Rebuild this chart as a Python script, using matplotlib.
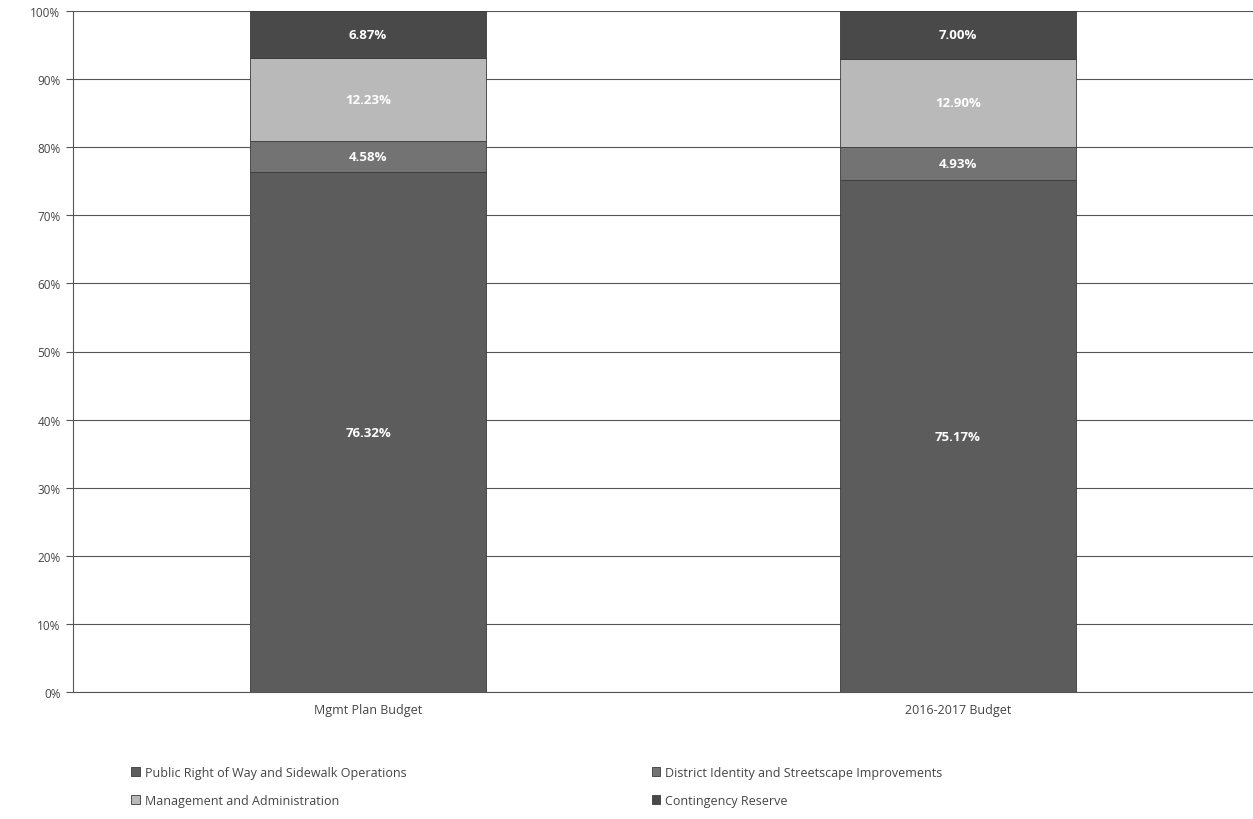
import numpy as np
import matplotlib.pyplot as plt
from matplotlib.ticker import PercentFormatter

categories = ['Mgmt Plan Budget', '2016-2017 Budget']
series_names = ['Public Right of Way and Sidewalk Operations',
                'District Identity and Streetscape Improvements',
                'Management and Administration',
                'Contingency Reserve']
public_row = [76.32, 75.17]
district_identity = [4.58, 4.93]
management = [12.23, 12.90]
contingency = [6.87, 7.00]

series = [public_row, district_identity, management, contingency]
colors = ['#5c5c5c', '#737373', '#b9b9b9', '#494949']

plt.rcParams['font.family'] = ['Open Sans', 'DejaVu Sans']

fig = plt.figure(figsize=(12.53, 8.2), dpi=100)
ax = fig.add_axes([73 / 1253, 1 - 693 / 820, 1180 / 1253, 681 / 820])

x = np.arange(len(categories))
bottom = np.zeros(len(categories))
handles = []
for name, vals, c in zip(series_names, series, colors):
    rects = ax.bar(x, vals, 0.4, bottom=bottom, color=c, edgecolor='#3a3a3a',
                   linewidth=0.6, label=name, zorder=3)
    handles.append(rects)
    for xi, b, v in zip(x, bottom, vals):
        ax.text(xi, b + v / 2, f'{v:.2f}%', ha='center', va='center',
                color='white', fontsize=9.5, fontweight='bold', zorder=4)
    bottom += np.array(vals)

ax.set_xlim(-0.5, 1.5)
ax.set_ylim(0, 100)
ax.set_yticks(np.arange(0, 101, 10))
ax.yaxis.set_major_formatter(PercentFormatter(decimals=0))
ax.set_xticks(x, categories)
ax.grid(axis='y', color='#555555', linewidth=0.8, zorder=0)
ax.axhline(0, color='#555555', linewidth=0.8, zorder=1, clip_on=False)
for s in ['top', 'right', 'bottom']:
    ax.spines[s].set_visible(False)
ax.spines['left'].set_color('#555555')
ax.tick_params(axis='y', length=5, color='#555555', labelsize=8.5, labelcolor='#444444', pad=4)
ax.tick_params(axis='x', length=0, labelsize=9, labelcolor='#444444', pad=8)

# legend fills by column, so order handles to read row by row
order = [0, 2, 1, 3]
fig.legend(handles=[handles[i] for i in order], labels=[series_names[i] for i in order],
           loc='lower left', bbox_to_anchor=(120 / 1253, 1 / 820),
           ncol=2, frameon=False, fontsize=9, labelcolor='#444444',
           handlelength=0.7, handleheight=0.7, handletextpad=0.4,
           columnspacing=19.6, labelspacing=1.2)

fig.savefig('out.png', dpi=100)
